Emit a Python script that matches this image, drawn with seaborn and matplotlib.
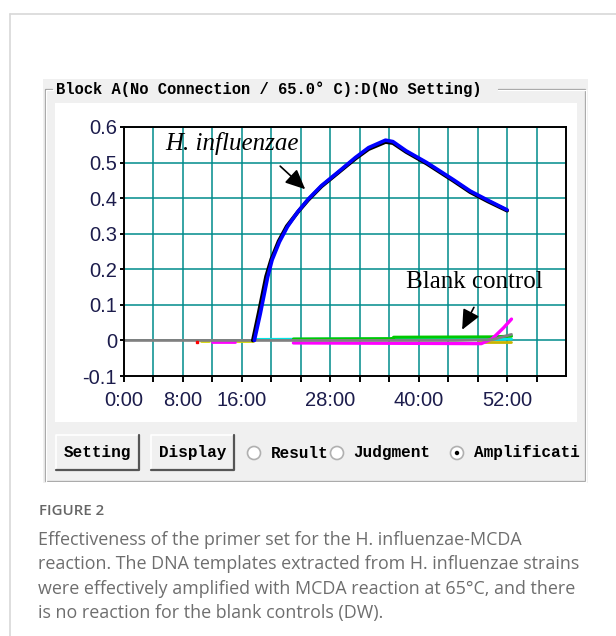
import matplotlib
matplotlib.use("Agg")
import matplotlib.pyplot as plt
import matplotlib.patches as mpatches
import seaborn as sns

# amplification curves, time in minutes
t_blue = [17.7, 18.5, 19.5, 20.1, 21.1, 22.2, 23.6, 25.0, 26.8, 29.1, 31.4, 33.2, 35.5, 36.5, 38.3, 41.1, 42.9, 44.7, 47.0, 49.4, 52.0]
y_blue = [0.0, 0.075, 0.178, 0.226, 0.277, 0.32, 0.362, 0.397, 0.435, 0.474, 0.514, 0.542, 0.563, 0.559, 0.533, 0.5, 0.476, 0.452, 0.42, 0.394, 0.367]
t_black = [17.5, 18.3, 19.3, 20.0, 21.0, 22.1, 23.6, 25.0, 26.8, 29.1, 31.4, 33.2, 35.5, 36.5, 38.3, 41.1, 42.9, 44.7, 47.0, 49.4, 52.0]
y_black = [0.0, 0.078, 0.18, 0.228, 0.279, 0.321, 0.361, 0.395, 0.433, 0.472, 0.511, 0.538, 0.558, 0.555, 0.53, 0.497, 0.473, 0.449, 0.417, 0.391, 0.365]

# blank controls
t_gray = [0, 17, 30, 45, 50, 52.6]
y_gray = [0, 0, 0, 0, 0.002, 0.017]
t_cyan = [18, 30, 45, 50, 52.6]
y_cyan = [0.003, 0.004, 0.004, 0.003, 0.004]
t_green = [23, 36.5, 36.6, 50, 52.6]
y_green = [0.004, 0.005, 0.009, 0.01, 0.012]
t_mag1 = [12, 15]
y_mag1 = [-0.005, -0.005]
t_mag2 = [23, 37, 48.5, 50, 51.5, 52.6]
y_mag2 = [-0.007, -0.008, -0.009, 0.005, 0.035, 0.06]
t_yel1 = [10.5, 11.5]
y_yel1 = [-0.002, -0.002]
t_yel2 = [15, 17.5]
y_yel2 = [-0.003, -0.003]
t_yel3 = [48, 52.6]
y_yel3 = [-0.004, -0.004]

x_ticks = list(range(0, 57, 4))
x_labels = ["0:00", "", "8:00", "", "16:00", "", "", "28:00", "", "", "40:00", "", "", "52:00", ""]
y_ticks = [-0.1, 0, 0.1, 0.2, 0.3, 0.4, 0.5, 0.6]
y_labels = ["-0.1", "0", "0.1", "0.2", "0.3", "0.4", "0.5", "0.6"]

sns.set_style("white")
plt.rcParams["font.family"] = ["Liberation Sans", "DejaVu Sans"]

W, H = 616, 636
fig = plt.figure(figsize=(W / 100, H / 100), dpi=100)
fig.patch.set_facecolor("white")

# background layer in pixel coordinates
bg = fig.add_axes([0, 0, 1, 1])
bg.set_xlim(0, W)
bg.set_ylim(H, 0)
bg.axis("off")

# card border
bg.plot([9.5, W], [14, 14], color="#d8d8d8", lw=1.2)
bg.plot([9.5, 9.5], [14, H], color="#d8d8d8", lw=1.2)

# window panel
bg.add_patch(mpatches.Rectangle((43, 79), 545, 404, facecolor="#f0f0f0", edgecolor="none"))
bg.add_patch(mpatches.Rectangle((55, 103), 522, 319, facecolor="white", edgecolor="none"))

# group box (etched)
for off, col in [(0, "#a0a0a0"), (1, "white")]:
    bg.plot([52 + off, 45 + off, 45 + off, 585 + off, 585 + off, 498],
            [89 + off, 89 + off, 481 + off, 481 + off, 89 + off, 89 + off],
            color=col, lw=0.9, solid_joinstyle="miter")
bg.text(56, 89, "Block A(No Connection / 65.0° C):D(No Setting)", ha="left", va="center",
        fontsize=11.2, fontweight="bold", family="Liberation Mono", color="black")

# buttons
for x0, x1, label in [(56, 139, "Setting"), (151, 234, "Display")]:
    bg.add_patch(mpatches.Rectangle((x0, 435), x1 - x0, 35, facecolor="#f0f0f0", edgecolor="none"))
    bg.plot([x0, x0, x1], [470, 435, 435], color="white", lw=1.2)
    bg.plot([x0, x1, x1], [470, 470, 435], color="#555555", lw=1.6)
    bg.text((x0 + x1) / 2, 452, label, ha="center", va="center", fontsize=11.5,
            fontweight="bold", family="Liberation Mono", color="black")

# radio buttons
for cx, tx, label, on in [(254, 271, "Result", False), (337, 353, "Judgment", False),
                          (457, 474, "Amplificati", True)]:
    bg.text(tx, 453, label, ha="left", va="center", fontsize=11.5, fontweight="bold",
            family="Liberation Mono", color="black")
    bg.add_patch(mpatches.Circle((cx, 453), 6.5, facecolor="white", edgecolor="#b0b0b0", lw=1.2))
    if on:
        bg.add_patch(mpatches.Circle((cx, 453), 2.2, facecolor="black", edgecolor="none"))

# caption
bg.text(39, 511, "FIGURE 2", ha="left", va="center", fontsize=10.8, fontweight="semibold",
        family="Open Sans", color="#666666")
caption = ["Effectiveness of the primer set for the H. influenzae-MCDA",
           "reaction. The DNA templates extracted from H. influenzae strains",
           "were effectively amplified with MCDA reaction at 65°C, and there",
           "is no reaction for the blank controls (DW)."]
for i, line in enumerate(caption):
    bg.text(38, 540 + i * 24.3, line, ha="left", va="center", fontsize=12.9,
            family="Open Sans", color="#6e6e6e")

# amplification plot
ax = fig.add_axes([124 / W, 1 - 376 / H, 442 / W, 249 / H])
ax.set_facecolor("white")
ax.set_xlim(0, 60)
ax.set_ylim(-0.1, 0.6)
ax.set_xticks(x_ticks)
ax.set_xticklabels(x_labels)
ax.set_yticks(y_ticks)
ax.set_yticklabels(y_labels)
for v in x_ticks[1:]:
    ax.axvline(v, color="#008b8b", lw=1.1, zorder=1)
for v in y_ticks[1:]:
    ax.axhline(v, color="#008b8b", lw=1.1, zorder=1)

segments = [
    (t_yel1, y_yel1, "#d4d400", 2.0),
    (t_yel2, y_yel2, "#d4d400", 2.0),
    (t_mag1, y_mag1, "#ff00ff", 2.0),
    (t_yel3, y_yel3, "#c8b400", 2.0),
    (t_cyan, y_cyan, "#00e5e5", 2.0),
    (t_green, y_green, "#00c800", 2.2),
    (t_mag2, y_mag2, "#ff00ff", 2.4),
    (t_gray, y_gray, "#808080", 2.0),
    (t_black, y_black, "black", 2.8),
    (t_blue, y_blue, "#0000ff", 2.6),
]
for tx, ty, col, lw in segments:
    sns.lineplot(x=tx, y=ty, ax=ax, color=col, lw=lw, estimator=None, sort=False, zorder=3)
ax.plot([9.9], [-0.004], marker="s", ms=2, color="red", zorder=3)

arrow_style = dict(arrowstyle="-|>,head_length=1.1,head_width=0.5", color="black", lw=1.2,
                   shrinkA=0, shrinkB=0, mutation_scale=11)
ax.text(14.7, 0.553, "H. influenzae", ha="center", va="center", fontsize=18,
        style="italic", family="Liberation Serif", color="black", zorder=5)
ax.annotate("", xy=(24.6, 0.425), xytext=(21.2, 0.49), arrowprops=arrow_style, zorder=5)
ax.text(47.6, 0.163, "Blank control", ha="center", va="center", fontsize=18,
        family="Liberation Serif", color="black", zorder=5)
ax.annotate("", xy=(45.9, 0.03), xytext=(47.5, 0.093), arrowprops=arrow_style, zorder=5)

for s in ax.spines.values():
    s.set_visible(True)
    s.set_color("black")
    s.set_linewidth(1.4)
    s.set_zorder(4)
ax.tick_params(axis="x", direction="out", length=4, width=1.4, pad=7, labelsize=14.5,
               labelcolor="#1c1c4c", color="black", bottom=True)
ax.tick_params(axis="y", direction="out", length=3, width=1.4, pad=2, labelsize=14.5,
               labelcolor="#1c1c4c", color="black", left=True)
ax.set_xlabel("")
ax.set_ylabel("")

fig.savefig("out.png", dpi=100)
